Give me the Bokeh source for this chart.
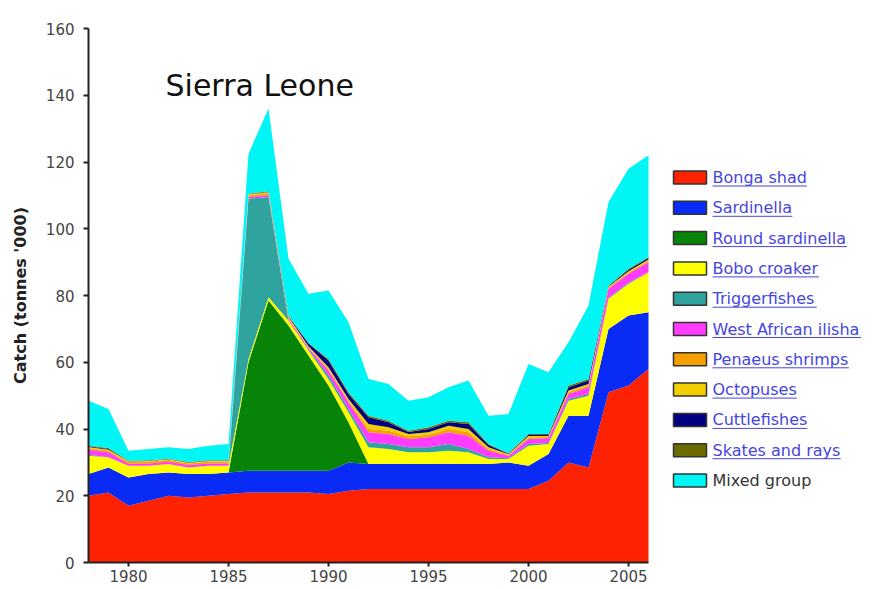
from bokeh.plotting import figure
from bokeh.models import ColumnDataSource, Range1d, Label, FixedTicker
from bokeh.core.properties import value
from bokeh.embed import file_html
from bokeh.resources import INLINE

# ---------------- data ('000 tonnes) ----------------
years = [1978, 1979, 1980, 1981, 1982, 1983, 1984, 1985, 1986, 1987,
         1988, 1989, 1990, 1991, 1992, 1993, 1994, 1995, 1996, 1997,
         1998, 1999, 2000, 2001, 2002, 2003, 2004, 2005, 2006]

bonga_shad = [20, 21, 17, 18.5, 20, 19.5, 20, 20.5, 21, 21,
              21, 21, 20.5, 21.5, 22, 22, 22, 22, 22, 22,
              22, 22, 22, 24.5, 30, 28.5, 51, 53, 58]
sardinella = [6.5, 7.5, 8.5, 8, 7, 7, 6.5, 6.5, 6.5, 6.5,
              6.5, 6.5, 7, 8.5, 7.5, 7.5, 7.5, 7.5, 7.5, 7.5,
              7.5, 8, 7, 8, 14, 15.5, 19, 21, 17]
round_sardinella = [0, 0, 0, 0, 0, 0, 0, 0, 32.5, 51,
                    43.5, 34.5, 25.5, 12, 0, 0, 0, 0, 0, 0,
                    0, 0, 0, 0, 0, 0, 0, 0, 0]
bobo_croaker = [5.5, 3, 3.5, 2.5, 2.5, 2, 2.5, 2, 1, 1,
                1.5, 1.5, 2, 3, 5, 4.5, 3.5, 3.5, 4, 3.5,
                1.5, 1, 6, 3, 4.5, 6, 9, 9.5, 12]
triggerfishes = [0.3, 0, 0, 0, 0, 0, 0, 0, 48, 30,
                 0, 0.3, 1, 1, 1.5, 1.5, 1.5, 1.5, 2, 1,
                 0.5, 0.2, 0.5, 0.3, 0.5, 0.5, 0.3, 0.3, 0]
west_african_ilisha = [1.5, 1.5, 0.6, 0.7, 0.7, 0.7, 0.7, 0.7, 0.5, 0.6,
                       0.5, 0.5, 1.5, 2, 3, 3, 2.5, 3, 3.5, 4,
                       2, 0.8, 1.5, 1.5, 1.5, 2, 2.7, 2.7, 3]
penaeus_shrimps = [0.5, 0.5, 0.5, 0.5, 0.5, 0.5, 0.5, 0.5, 0.5, 0.5,
                   0.3, 0.2, 0.5, 0.5, 1, 1, 0.8, 0.8, 1, 1,
                   0.5, 0.2, 0.5, 0.3, 0.5, 0.5, 0.3, 0.4, 0.4]
octopuses = [0.3, 0.3, 0.2, 0.2, 0.2, 0.2, 0.2, 0.2, 0.3, 0.3,
             0.3, 0.3, 0.5, 0.5, 1.5, 1, 0.7, 0.7, 1, 1,
             0.5, 0.2, 0.4, 0.3, 0.5, 0.5, 0.3, 0.4, 0.4]
cuttlefishes = [0.2, 0.2, 0.1, 0.1, 0.1, 0.1, 0.1, 0.1, 0.1, 0.1,
                0.2, 0.8, 2, 1.5, 2, 1.5, 0.6, 1, 1, 1.5,
                0.7, 0.2, 0.3, 0.3, 1, 1, 0.2, 0.4, 0.4]
skates_and_rays = [0.2, 0.3, 0.1, 0.1, 0.1, 0.1, 0.1, 0.1, 0.1, 0.2,
                   0.2, 0.2, 0.5, 0.5, 0.5, 0.5, 0.4, 0.5, 0.5, 0.5,
                   0.3, 0.1, 0.3, 0.3, 0.5, 0.5, 0.2, 0.3, 0.3]
mixed_group = [13.5, 11.7, 3, 3.4, 3.4, 3.9, 4.4, 4.9, 12, 24.8,
               17, 14.7, 20.5, 21, 11, 11, 9, 9, 10, 12.5,
               8.5, 11.8, 21, 18.5, 13, 22, 25, 30, 30.5]

series_names = ["Bonga shad", "Sardinella", "Round sardinella", "Bobo croaker",
                "Triggerfishes", "West African ilisha", "Penaeus shrimps",
                "Octopuses", "Cuttlefishes", "Skates and rays", "Mixed group"]
series_values = [bonga_shad, sardinella, round_sardinella, bobo_croaker,
                 triggerfishes, west_african_ilisha, penaeus_shrimps,
                 octopuses, cuttlefishes, skates_and_rays, mixed_group]
series_colors = ["#FF2200", "#0A2AF5", "#078407", "#FFFF00", "#2FA39E",
                 "#FF3CFF", "#F5A000", "#F2D000", "#000080", "#6B6B00",
                 "#00F5F5"]
linked = [True] * 10 + [False]

x_ticks = [1980, 1985, 1990, 1995, 2000, 2005]
y_ticks = [0, 20, 40, 60, 80, 100, 120, 140, 160]

# ---------------- layout constants (pixels) ----------------
W, H = 870, 587
BL, BR, BT, BB = 88, 2, 28, 25
FRAME_W = W - BL - BR
FRAME_H = H - BT - BB
PX_PER_YEAR = 20.0
PX_PER_UNIT = FRAME_H / 160.0
PAGE_OFFSET = 0


def page_x_to_data(px):
    return years[0] + (px - (PAGE_OFFSET + BL)) / PX_PER_YEAR


def page_y_to_data(py):
    return 160 - (py - (PAGE_OFFSET + BT)) / PX_PER_UNIT


FONT = "DejaVu Sans"

p = figure(width=W, height=H,
           x_range=Range1d(years[0], years[0] + FRAME_W / PX_PER_YEAR),
           y_range=Range1d(0, 160),
           output_backend="svg", toolbar_location=None,
           min_border_left=BL, min_border_right=BR,
           min_border_top=BT, min_border_bottom=BB)
p.outline_line_color = None
p.xgrid.visible = False
p.ygrid.visible = False
p.background_fill_color = "white"
p.border_fill_color = "white"

keys = ["s%d" % i for i in range(len(series_names))]
data = {"year": years}
for k, v in zip(keys, series_values):
    data[k] = v
src = ColumnDataSource(data)
p.varea_stack(stackers=keys, x="year", color=series_colors, source=src)

# axes
for ax in (p.xaxis[0], p.yaxis[0]):
    ax.axis_line_color = "#222222"
    ax.axis_line_width = 2
    ax.major_tick_line_color = "#222222"
    ax.major_tick_line_width = 2
    ax.major_tick_in = 0
    ax.minor_tick_line_color = None
    ax.major_label_text_font = FONT
    ax.major_label_text_font_size = "15px"
    ax.major_label_text_color = "#444444"

p.xaxis.ticker = FixedTicker(ticks=x_ticks)
p.xaxis.bounds = (years[0], years[-1])
p.xaxis.major_tick_out = 4
p.xaxis.major_label_standoff = 3

p.yaxis.ticker = FixedTicker(ticks=y_ticks)
p.yaxis.major_tick_out = 5
p.yaxis.major_label_standoff = 9
p.yaxis.axis_label = "Catch (tonnes '000)"
p.yaxis.axis_label_text_font = FONT
p.yaxis.axis_label_text_font_size = "16px"
p.yaxis.axis_label_text_font_style = "bold"
p.yaxis.axis_label_text_color = "#222222"
p.yaxis.axis_label_standoff = 13

# chart title inside the plot
p.add_layout(Label(x=page_x_to_data(165), y=page_y_to_data(85),
                   text="Sierra Leone", text_font=FONT,
                   text_font_size="30px", text_color="#111111",
                   text_baseline="alphabetic", text_align="left"))

# ---------------- legend (drawn manually: swatches, link-style labels) ----------------
LEG_TOP = 177.0
LEG_STEP = 30.3
SW_CX = 689.5
TXT_X = 712.0
FS = 16.0
LINK_COLOR = "#4646DE"

DV = {" ": .318, "a": .613, "b": .635, "c": .550, "d": .635, "e": .615, "f": .352,
      "g": .635, "h": .634, "i": .278, "k": .579, "l": .278, "m": .974, "n": .634,
      "o": .612, "p": .635, "r": .411, "s": .521, "t": .392, "u": .634, "w": .818,
      "x": .592, "y": .592, "A": .684, "B": .686, "C": .698, "M": .863, "O": .787,
      "P": .603, "R": .695, "S": .635, "T": .611, "W": .989}

rows_y, txt_cols, ul_x0, ul_x1, ul_y, ul_c = [], [], [], [], [], []
for i, name in enumerate(series_names):
    py = LEG_TOP + LEG_STEP * i
    rows_y.append(page_y_to_data(py))
    col = LINK_COLOR if linked[i] else "#333333"
    txt_cols.append(col)
    if linked[i]:
        wpx = sum(DV.get(ch, 0.6) for ch in name) * FS
        ul_x0.append(page_x_to_data(TXT_X))
        ul_x1.append(page_x_to_data(TXT_X + wpx))
        ul_y.append(page_y_to_data(py + 8.5))
        ul_c.append(col)

leg_src = ColumnDataSource(dict(
    x=[page_x_to_data(SW_CX)] * len(series_names),
    tx=[page_x_to_data(TXT_X)] * len(series_names),
    y=rows_y, name=series_names, fill=series_colors, tcol=txt_cols))

p.rect(x="x", y="y", width=33, height=13, width_units="screen",
       height_units="screen", fill_color="fill", line_color="#333333",
       line_width=1.5, source=leg_src)
p.text(x="tx", y="y", text="name", text_color="tcol",
       text_font=value(FONT), text_font_size="16px",
       text_baseline="middle", text_align="left", source=leg_src)
p.segment(x0=ul_x0, y0=ul_y, x1=ul_x1, y1=ul_y, line_color=ul_c, line_width=1)

open("out.html", "w").write(file_html(p, INLINE))
